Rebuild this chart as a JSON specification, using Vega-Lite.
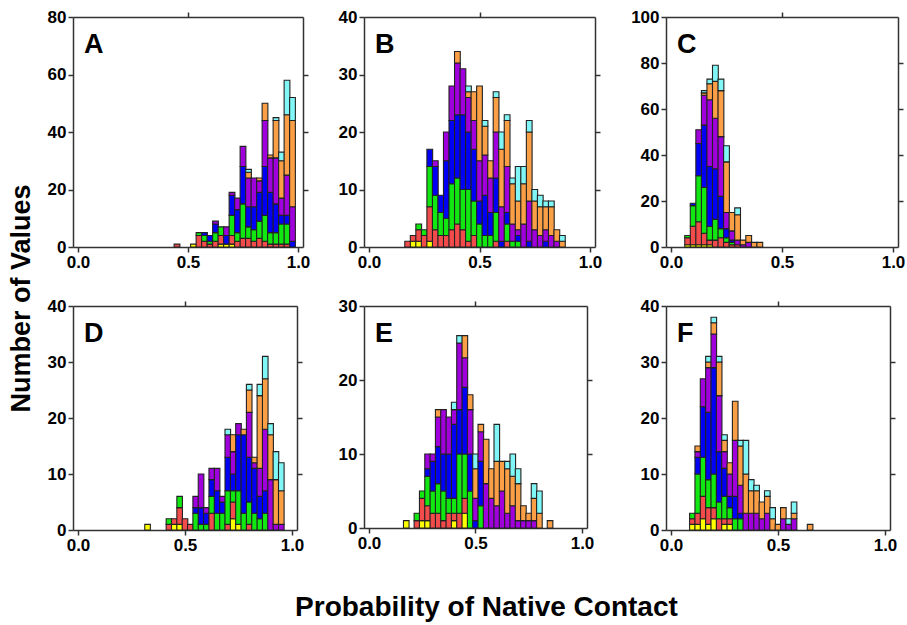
{
"$schema":"https://vega.github.io/schema/vega-lite/v6.json",
"padding":{"left":8,"top":8,"right":3,"bottom":3},
"title":{"text":"Probability of Native Contact","orient":"bottom","anchor":"middle","offset":41,"dx":30,"fontSize":28,"fontWeight":"bold","font":"Liberation Sans","color":"#000"},
"datasets":{
"A":[{"x":0.45,"b":1},{"x":0.525,"a":1},{"x":0.55,"b":4,"c":1},{"x":0.575,"b":2,"c":2,"d":1},{"x":0.6,"b":1,"c":1,"d":2},{"x":0.625,"b":2,"c":3,"d":3,"e":1},{"x":0.65,"a":1,"b":3,"c":3},{"x":0.675,"a":1,"d":3,"e":3},{"x":0.7,"a":1,"b":3,"c":7,"d":7,"e":1},{"x":0.725,"b":2,"c":3,"d":8,"e":4},{"x":0.75,"b":3,"c":12,"d":13,"e":7},{"x":0.775,"b":3,"c":4,"d":7,"e":10,"f":2,"g":1},{"x":0.8,"b":2,"c":4,"d":8,"e":10},{"x":0.825,"b":3,"c":6,"d":10,"e":4,"f":1},{"x":0.85,"b":2,"c":9,"d":17,"e":16,"f":6},{"x":0.875,"b":1,"c":4,"d":14,"e":12,"f":1},{"x":0.9,"b":1,"c":4,"d":10,"e":16,"f":13,"g":1},{"x":0.925,"b":1,"c":7,"d":3,"e":6,"f":13,"g":3},{"x":0.95,"b":1,"c":7,"d":3,"e":14,"f":21,"g":12},{"x":0.975,"d":2,"e":12,"f":30,"g":8}],
"B":[{"x":0.175,"b":1},{"x":0.2,"a":1,"b":1},{"x":0.225,"a":1,"b":2,"c":1},{"x":0.25,"b":2,"c":1},{"x":0.275,"a":1,"b":6,"c":7,"d":3},{"x":0.3,"b":3,"c":6,"d":5,"e":1},{"x":0.325,"b":2,"c":4,"d":3},{"x":0.35,"b":2,"c":3,"d":10,"e":5},{"x":0.375,"b":3,"c":8,"d":11,"e":6},{"x":0.4,"b":4,"c":8,"d":11,"e":9,"f":2},{"x":0.425,"b":3,"c":7,"d":13,"e":8},{"x":0.45,"b":1,"c":9,"d":10,"e":6,"f":1,"g":1},{"x":0.475,"b":2,"c":6,"d":9,"e":5,"f":5},{"x":0.5,"c":4,"d":4,"e":7,"f":13},{"x":0.525,"c":2,"d":7,"e":7,"f":5,"g":1},{"x":0.55,"c":2,"d":4,"e":6,"f":3},{"x":0.575,"b":1,"c":5,"d":6,"e":8,"f":6,"g":1},{"x":0.6,"d":1,"e":6,"f":10,"g":3},{"x":0.625,"b":1,"c":3,"d":2,"e":8,"f":8,"g":1},{"x":0.65,"c":1,"e":3,"f":7,"g":1},{"x":0.675,"c":1,"d":1,"e":1,"f":5,"g":6},{"x":0.7,"e":4,"f":7,"g":3},{"x":0.725,"d":1,"e":7,"f":12,"g":2},{"x":0.75,"e":3,"f":5,"g":2},{"x":0.775,"e":2,"f":5,"g":2},{"x":0.8,"d":1,"e":2,"f":4,"g":1},{"x":0.825,"e":2,"f":5,"g":1},{"x":0.85,"e":1,"f":2},{"x":0.875,"f":1,"g":1}],
"C":[{"x":0.075,"a":1,"b":3,"c":1},{"x":0.1,"a":1,"b":8,"c":9,"d":1},{"x":0.125,"a":1,"b":10,"c":20,"d":14,"e":6},{"x":0.15,"a":1,"b":5,"c":20,"d":27,"e":13,"f":1,"g":1},{"x":0.175,"a":1,"b":2,"c":6,"d":26,"e":29,"f":7,"g":2},{"x":0.2,"b":3,"c":9,"d":22,"e":22,"f":16,"g":7},{"x":0.225,"b":4,"c":4,"d":14,"e":26,"f":20,"g":5},{"x":0.25,"b":2,"c":2,"d":4,"e":7,"f":22,"g":7},{"x":0.275,"b":1,"c":1,"d":1,"e":4,"f":8},{"x":0.3,"b":1,"e":2,"f":11,"g":3},{"x":0.325,"e":1,"f":2},{"x":0.35,"e":2,"f":3},{"x":0.375,"f":2},{"x":0.4,"f":2}],
"D":[{"x":0.325,"a":1},{"x":0.425,"b":1,"c":1},{"x":0.45,"a":1,"b":1},{"x":0.475,"a":1,"b":3,"c":2},{"x":0.5,"b":2},{"x":0.525,"b":1},{"x":0.55,"c":3,"d":1,"e":2},{"x":0.575,"c":1,"d":3,"e":6},{"x":0.6,"c":1,"d":2,"e":1},{"x":0.625,"b":3,"c":3,"d":3,"e":2},{"x":0.65,"c":3,"d":4,"e":4},{"x":0.675,"c":3,"d":2,"e":1},{"x":0.7,"b":1,"c":6,"d":6,"e":4,"g":1},{"x":0.725,"a":2,"b":3,"c":2,"d":3,"e":4,"f":3},{"x":0.75,"a":1,"c":6,"d":10,"e":2},{"x":0.775,"c":3,"d":14,"f":1},{"x":0.8,"b":1,"c":4,"d":8,"e":8,"f":4,"g":1},{"x":0.825,"c":3,"d":8,"e":1,"f":1},{"x":0.85,"c":2,"d":4,"e":5,"f":13,"g":2},{"x":0.875,"c":3,"d":4,"e":11,"f":9,"g":4},{"x":0.9,"e":9,"f":8,"g":2},{"x":0.925,"e":1,"f":8,"g":5},{"x":0.95,"e":1,"f":6,"g":5}],
"E":[{"x":0.175,"a":1},{"x":0.225,"b":1,"c":1},{"x":0.25,"a":1,"b":3,"c":1},{"x":0.275,"a":1,"b":2,"c":4,"d":1,"e":2},{"x":0.3,"b":2,"c":3,"d":4,"e":1},{"x":0.325,"b":2,"c":4,"d":5,"e":4,"f":1},{"x":0.35,"b":1,"c":4,"d":5,"e":6},{"x":0.375,"b":2,"c":2,"d":6,"e":5},{"x":0.4,"a":1,"b":1,"c":2,"d":10,"e":2,"g":1},{"x":0.425,"b":2,"c":8,"d":6,"e":9,"g":1},{"x":0.45,"a":2,"b":2,"c":6,"d":9,"e":4,"f":3},{"x":0.475,"c":5,"d":5,"e":6,"f":2},{"x":0.5,"d":1,"e":3,"f":4,"g":2},{"x":0.525,"c":3,"d":6,"e":4,"f":1},{"x":0.55,"e":6,"f":6},{"x":0.575,"e":4,"f":4},{"x":0.6,"e":3,"f":6,"g":5},{"x":0.625,"e":5,"f":4},{"x":0.65,"e":2,"f":6,"g":1},{"x":0.675,"e":3,"f":4,"g":3},{"x":0.7,"e":1,"f":5,"g":2},{"x":0.725,"e":1,"f":2},{"x":0.75,"e":1,"f":1},{"x":0.775,"e":1,"f":3,"g":2},{"x":0.8,"f":2,"g":3},{"x":0.85,"f":1}],
"F":[{"x":0.1,"a":1,"b":1,"c":1},{"x":0.125,"a":1,"b":2,"c":7,"d":3,"e":1,"f":1},{"x":0.15,"a":2,"b":4,"c":7,"d":9,"e":5},{"x":0.175,"a":1,"b":3,"c":5,"d":12,"e":8,"f":1,"g":1},{"x":0.2,"a":2,"b":2,"c":6,"d":19,"e":6,"f":2,"g":1},{"x":0.225,"b":2,"c":3,"d":9,"e":10,"f":6,"g":1},{"x":0.25,"a":1,"b":1,"c":4,"d":5,"e":3,"f":2,"g":1},{"x":0.275,"a":1,"b":1,"c":2,"d":2,"e":4,"f":2},{"x":0.3,"c":2,"d":4,"e":10,"f":7},{"x":0.325,"c":2,"d":1,"e":5,"f":7,"g":1},{"x":0.35,"e":3,"f":7,"g":6},{"x":0.375,"e":3,"f":4,"g":2},{"x":0.4,"e":3,"f":4,"g":1},{"x":0.425,"e":2,"f":3},{"x":0.45,"e":3,"f":3,"g":1},{"x":0.475,"f":2,"g":2},{"x":0.5,"f":1},{"x":0.525,"e":2,"f":2},{"x":0.55,"e":1,"g":1},{"x":0.575,"e":2,"f":1,"g":2},{"x":0.65,"f":1}]
},
"vconcat":[{
"title":{"text":"Number of Values","orient":"left","anchor":"middle","offset":11,"dx":-18,"fontSize":27,"fontWeight":"bold","font":"Liberation Sans","color":"#000"},
"spacing":27,
"vconcat":[
{"spacing":28,"hconcat":[
{"width":230,"height":230,"data":{"name":"A"},
"transform":[{"fold":["a","b","c","d","e","f","g"],"as":["s","n"]},{"filter":"datum.n > 0"}],
"title":{"text":"A","anchor":"start","frame":"group","offset":-51,"dx":11,"fontSize":27,"fontWeight":"bold","font":"Liberation Sans","color":"#000"},
"layer":[
{"mark":{"type":"bar","width":5.75,"stroke":"#222","strokeWidth":1.1},
"encoding":{"x":{"field":"x","type":"quantitative","scale":{"domain":[0,1],"nice":false},"axis":{"orient":"bottom","values":[0,0.5,1],"format":".1f","title":null}},
"y":{"field":"n","type":"quantitative","stack":"zero","scale":{"domain":[0,80],"nice":false},"axis":{"orient":"left","values":[0,20,40,60,80],"title":null}},
"color":{"field":"s","type":"nominal","scale":{"domain":["a","b","c","d","e","f","g"],"range":["#FFFF00","#F24B4B","#11E711","#0000F5","#A000DC","#FA9F46","#80F6F6"]},"legend":null},
"order":{"field":"s","sort":"ascending"}}},
{"mark":{"type":"bar","width":5.75,"opacity":0},
"encoding":{"x":{"field":"x","type":"quantitative","scale":{"domain":[0,1],"nice":false},"axis":{"orient":"top","values":[0.5],"labels":false,"title":null}},
"y":{"field":"n","type":"quantitative","stack":"zero","scale":{"domain":[0,80],"nice":false},"axis":{"orient":"right","values":[20,40,60],"labels":false,"title":null}},
"order":{"field":"s","sort":"ascending"}}}
],
"resolve":{"axis":{"x":"independent","y":"independent"}}},
{"width":231,"height":230,"data":{"name":"B"},
"transform":[{"fold":["a","b","c","d","e","f","g"],"as":["s","n"]},{"filter":"datum.n > 0"}],
"title":{"text":"B","anchor":"start","frame":"group","offset":-51,"dx":11,"fontSize":27,"fontWeight":"bold","font":"Liberation Sans","color":"#000"},
"layer":[
{"mark":{"type":"bar","width":5.75,"stroke":"#222","strokeWidth":1.1},
"encoding":{"x":{"field":"x","type":"quantitative","scale":{"domain":[0,1],"nice":false},"axis":{"orient":"bottom","values":[0,0.5,1],"format":".1f","title":null}},
"y":{"field":"n","type":"quantitative","stack":"zero","scale":{"domain":[0,40],"nice":false},"axis":{"orient":"left","values":[0,10,20,30,40],"title":null}},
"color":{"field":"s","type":"nominal","scale":{"domain":["a","b","c","d","e","f","g"],"range":["#FFFF00","#F24B4B","#11E711","#0000F5","#A000DC","#FA9F46","#80F6F6"]},"legend":null},
"order":{"field":"s","sort":"ascending"}}},
{"mark":{"type":"bar","width":5.75,"opacity":0},
"encoding":{"x":{"field":"x","type":"quantitative","scale":{"domain":[0,1],"nice":false},"axis":{"orient":"top","values":[0.5],"labels":false,"title":null}},
"y":{"field":"n","type":"quantitative","stack":"zero","scale":{"domain":[0,40],"nice":false},"axis":{"orient":"right","values":[10,20,30],"labels":false,"title":null}},
"order":{"field":"s","sort":"ascending"}}}
],
"resolve":{"axis":{"x":"independent","y":"independent"}}},
{"width":232,"height":230,"data":{"name":"C"},
"transform":[{"fold":["a","b","c","d","e","f","g"],"as":["s","n"]},{"filter":"datum.n > 0"}],
"title":{"text":"C","anchor":"start","frame":"group","offset":-51,"dx":11,"fontSize":27,"fontWeight":"bold","font":"Liberation Sans","color":"#000"},
"layer":[
{"mark":{"type":"bar","width":5.8,"stroke":"#222","strokeWidth":1.1},
"encoding":{"x":{"field":"x","type":"quantitative","scale":{"domain":[0,1],"nice":false},"axis":{"orient":"bottom","values":[0,0.5,1],"format":".1f","title":null}},
"y":{"field":"n","type":"quantitative","stack":"zero","scale":{"domain":[0,100],"nice":false},"axis":{"orient":"left","values":[0,20,40,60,80,100],"title":null}},
"color":{"field":"s","type":"nominal","scale":{"domain":["a","b","c","d","e","f","g"],"range":["#FFFF00","#F24B4B","#11E711","#0000F5","#A000DC","#FA9F46","#80F6F6"]},"legend":null},
"order":{"field":"s","sort":"ascending"}}},
{"mark":{"type":"bar","width":5.8,"opacity":0},
"encoding":{"x":{"field":"x","type":"quantitative","scale":{"domain":[0,1],"nice":false},"axis":{"orient":"top","values":[0.5],"labels":false,"title":null}},
"y":{"field":"n","type":"quantitative","stack":"zero","scale":{"domain":[0,100],"nice":false},"axis":{"orient":"right","values":[20,40,60,80],"labels":false,"title":null}},
"order":{"field":"s","sort":"ascending"}}}
],
"resolve":{"axis":{"x":"independent","y":"independent"}}}
]},
{"spacing":34,"hconcat":[
{"width":224,"height":224,"data":{"name":"D"},
"transform":[{"fold":["a","b","c","d","e","f","g"],"as":["s","n"]},{"filter":"datum.n > 0"}],
"title":{"text":"D","anchor":"start","frame":"group","offset":-51,"dx":11,"fontSize":27,"fontWeight":"bold","font":"Liberation Sans","color":"#000"},
"layer":[
{"mark":{"type":"bar","width":5.6,"stroke":"#222","strokeWidth":1.1},
"encoding":{"x":{"field":"x","type":"quantitative","scale":{"domain":[0,1],"nice":false},"axis":{"orient":"bottom","values":[0,0.5,1],"format":".1f","title":null}},
"y":{"field":"n","type":"quantitative","stack":"zero","scale":{"domain":[0,40],"nice":false},"axis":{"orient":"left","values":[0,10,20,30,40],"title":null}},
"color":{"field":"s","type":"nominal","scale":{"domain":["a","b","c","d","e","f","g"],"range":["#FFFF00","#FF0000","#11E711","#0000F5","#A000DC","#FA9F46","#80F6F6"]},"legend":null},
"order":{"field":"s","sort":"ascending"}}},
{"mark":{"type":"bar","width":5.6,"opacity":0},
"encoding":{"x":{"field":"x","type":"quantitative","scale":{"domain":[0,1],"nice":false},"axis":{"orient":"top","values":[0.5],"labels":false,"title":null}},
"y":{"field":"n","type":"quantitative","stack":"zero","scale":{"domain":[0,40],"nice":false},"axis":{"orient":"right","values":[10,20,30],"labels":false,"title":null}},
"order":{"field":"s","sort":"ascending"}}}
],
"resolve":{"axis":{"x":"independent","y":"independent"}}},
{"spacing":46,"hconcat":[
{"width":223,"height":222,"data":{"name":"E"},
"transform":[{"fold":["a","b","c","d","e","f","g"],"as":["s","n"]},{"filter":"datum.n > 0"}],
"title":{"text":"E","anchor":"start","frame":"group","offset":-51,"dx":11,"fontSize":27,"fontWeight":"bold","font":"Liberation Sans","color":"#000"},
"layer":[
{"mark":{"type":"bar","width":5.6,"stroke":"#222","strokeWidth":1.1},
"encoding":{"x":{"field":"x","type":"quantitative","scale":{"domain":[0,1],"nice":false},"axis":{"orient":"bottom","values":[0,0.5,1],"format":".1f","title":null}},
"y":{"field":"n","type":"quantitative","stack":"zero","scale":{"domain":[0,30],"nice":false},"axis":{"orient":"left","values":[0,10,20,30],"title":null}},
"color":{"field":"s","type":"nominal","scale":{"domain":["a","b","c","d","e","f","g"],"range":["#FFFF00","#FF0000","#11E711","#0000F5","#A000DC","#FA9F46","#80F6F6"]},"legend":null},
"order":{"field":"s","sort":"ascending"}}},
{"mark":{"type":"bar","width":5.6,"opacity":0},
"encoding":{"x":{"field":"x","type":"quantitative","scale":{"domain":[0,1],"nice":false},"axis":{"orient":"top","values":[0.5],"labels":false,"title":null}},
"y":{"field":"n","type":"quantitative","stack":"zero","scale":{"domain":[0,30],"nice":false},"axis":{"orient":"right","values":[10,20],"labels":false,"title":null}},
"order":{"field":"s","sort":"ascending"}}}
],
"resolve":{"axis":{"x":"independent","y":"independent"}}},
{"width":224,"height":224,"data":{"name":"F"},
"transform":[{"fold":["a","b","c","d","e","f","g"],"as":["s","n"]},{"filter":"datum.n > 0"}],
"title":{"text":"F","anchor":"start","frame":"group","offset":-51,"dx":11,"fontSize":27,"fontWeight":"bold","font":"Liberation Sans","color":"#000"},
"layer":[
{"mark":{"type":"bar","width":5.6,"stroke":"#222","strokeWidth":1.1},
"encoding":{"x":{"field":"x","type":"quantitative","scale":{"domain":[0,1],"nice":false},"axis":{"orient":"bottom","values":[0,0.5,1],"format":".1f","title":null}},
"y":{"field":"n","type":"quantitative","stack":"zero","scale":{"domain":[0,40],"nice":false},"axis":{"orient":"left","values":[0,10,20,30,40],"title":null}},
"color":{"field":"s","type":"nominal","scale":{"domain":["a","b","c","d","e","f","g"],"range":["#FFFF00","#FF0000","#11E711","#0000F5","#A000DC","#FA9F46","#80F6F6"]},"legend":null},
"order":{"field":"s","sort":"ascending"}}},
{"mark":{"type":"bar","width":5.6,"opacity":0},
"encoding":{"x":{"field":"x","type":"quantitative","scale":{"domain":[0,1],"nice":false},"axis":{"orient":"top","values":[0.5],"labels":false,"title":null}},
"y":{"field":"n","type":"quantitative","stack":"zero","scale":{"domain":[0,40],"nice":false},"axis":{"orient":"right","values":[10,20,30],"labels":false,"title":null}},
"order":{"field":"s","sort":"ascending"}}}
],
"resolve":{"axis":{"x":"independent","y":"independent"}}}
]}
]}
]}],
"config":{
"view":{"stroke":null},
"font":"Liberation Sans",
"axis":{"domainColor":"#333","domainWidth":1.5,"tickColor":"#333","tickWidth":1.5,"tickSize":5,"labelFont":"Liberation Sans","labelFontSize":17,"labelFontWeight":"bold","labelColor":"#000","grid":false,"labelFlush":false,"labelPadding":2}
}
}
